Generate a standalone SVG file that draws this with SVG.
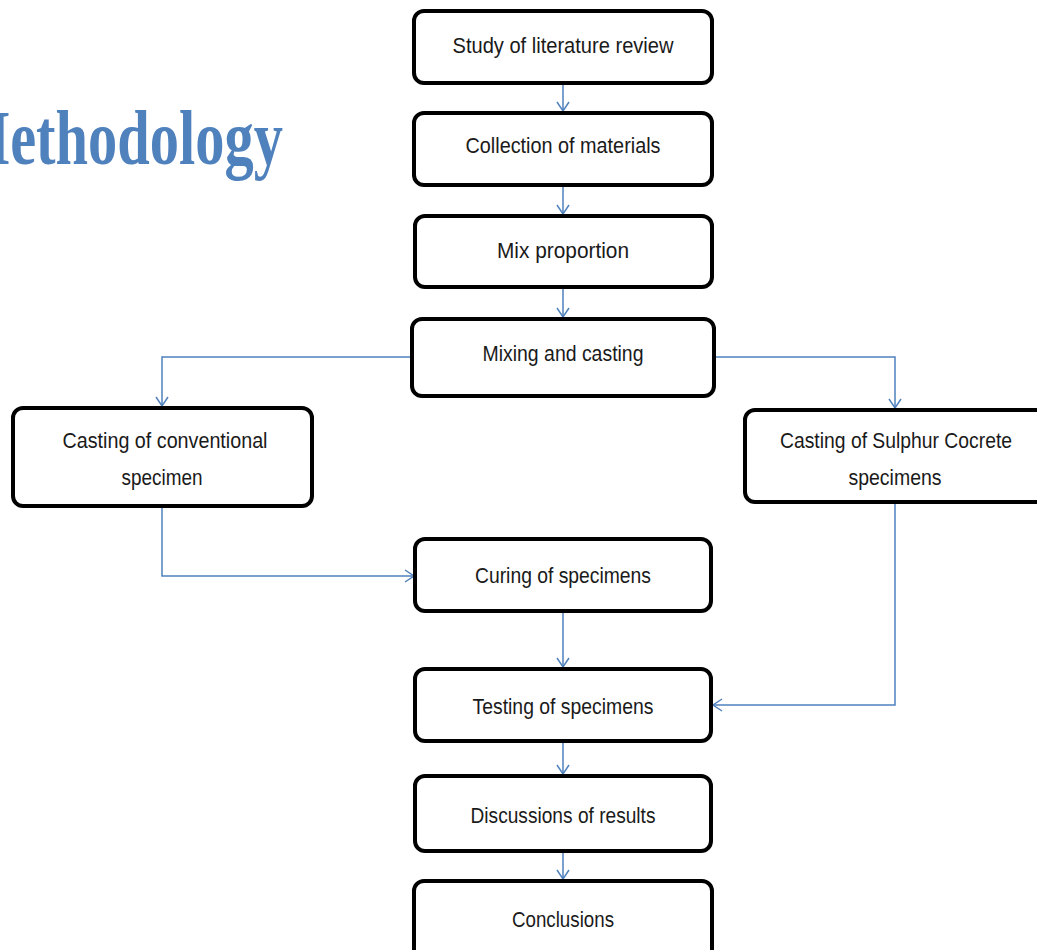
<svg xmlns="http://www.w3.org/2000/svg" width="1037" height="950" viewBox="0 0 1037 950">
<style>
.box{fill:#fff;stroke:#000;stroke-width:4}
.lbl{font-family:"Liberation Sans",Arial,sans-serif;font-size:22px;fill:#1a1a1a;text-anchor:middle}
.con{fill:none;stroke:#4F81BD;stroke-width:1.5;marker-end:url(#arr)}
.title{font-family:"Liberation Serif","Times New Roman",serif;font-weight:bold;font-size:78px;fill:#4F81BD}
</style>
<defs>
<marker id="arr" markerUnits="userSpaceOnUse" markerWidth="20" markerHeight="20" viewBox="-10 -10 20 20" refX="0" refY="0" orient="auto">
<path d="M-9,-6 L0,0 L-9,6" fill="none" stroke="#4F81BD" stroke-width="1.5"/>
</marker>
</defs>
<rect width="1037" height="950" fill="#fff"/>
<text class="title" x="-45" y="164" textLength="328" lengthAdjust="spacingAndGlyphs">Methodology</text>
<g id="connectors">
<path class="con" d="M563,84 L563,111"/>
<path class="con" d="M563,186 L563,214"/>
<path class="con" d="M563,289 L563,317"/>
<path class="con" d="M411,357 L162,357 L162,406"/>
<path class="con" d="M715,357 L895,357 L895,408"/>
<path class="con" d="M162,508 L162,576 L414,576"/>
<path class="con" d="M895,503 L895,705 L713,705"/>
<path class="con" d="M563,613 L563,667"/>
<path class="con" d="M563,743 L563,774"/>
<path class="con" d="M563,853 L563,879"/>
</g>
<g id="n1"><rect class="box" x="414" y="11" width="298" height="72" rx="10"/><text class="lbl" x="563" y="53" textLength="221" lengthAdjust="spacingAndGlyphs">Study of literature review</text></g>
<g id="n2"><rect class="box" x="414" y="113" width="298" height="72" rx="10"/><text class="lbl" x="563" y="153" textLength="195" lengthAdjust="spacingAndGlyphs">Collection of materials</text></g>
<g id="n3"><rect class="box" x="415" y="216" width="297" height="71" rx="10"/><text class="lbl" x="563" y="258" textLength="132" lengthAdjust="spacingAndGlyphs">Mix proportion</text></g>
<g id="n4"><rect class="box" x="412" y="319" width="302" height="77" rx="10"/><text class="lbl" x="563" y="361" textLength="161" lengthAdjust="spacingAndGlyphs">Mixing and casting</text></g>
<g id="n5"><rect class="box" x="13" y="408" width="299" height="98" rx="10"/><text class="lbl" x="165" y="448" textLength="205" lengthAdjust="spacingAndGlyphs">Casting of conventional</text><text class="lbl" x="162" y="485" textLength="81" lengthAdjust="spacingAndGlyphs">specimen</text></g>
<g id="n6"><rect class="box" x="745" y="410" width="310" height="92" rx="10"/><text class="lbl" x="896" y="448" textLength="232" lengthAdjust="spacingAndGlyphs">Casting of Sulphur Cocrete</text><text class="lbl" x="895" y="485" textLength="93" lengthAdjust="spacingAndGlyphs">specimens</text></g>
<g id="n7"><rect class="box" x="415" y="539" width="296" height="72" rx="10"/><text class="lbl" x="563" y="583" textLength="176" lengthAdjust="spacingAndGlyphs">Curing of specimens</text></g>
<g id="n8"><rect class="box" x="415" y="669" width="296" height="72" rx="10"/><text class="lbl" x="563" y="714" textLength="181" lengthAdjust="spacingAndGlyphs">Testing of specimens</text></g>
<g id="n9"><rect class="box" x="415" y="776" width="296" height="75" rx="10"/><text class="lbl" x="563" y="823" textLength="185" lengthAdjust="spacingAndGlyphs">Discussions of results</text></g>
<g id="n10"><rect class="box" x="414" y="881" width="298" height="80" rx="10"/><text class="lbl" x="563" y="927" textLength="102" lengthAdjust="spacingAndGlyphs">Conclusions</text></g>
</svg>
